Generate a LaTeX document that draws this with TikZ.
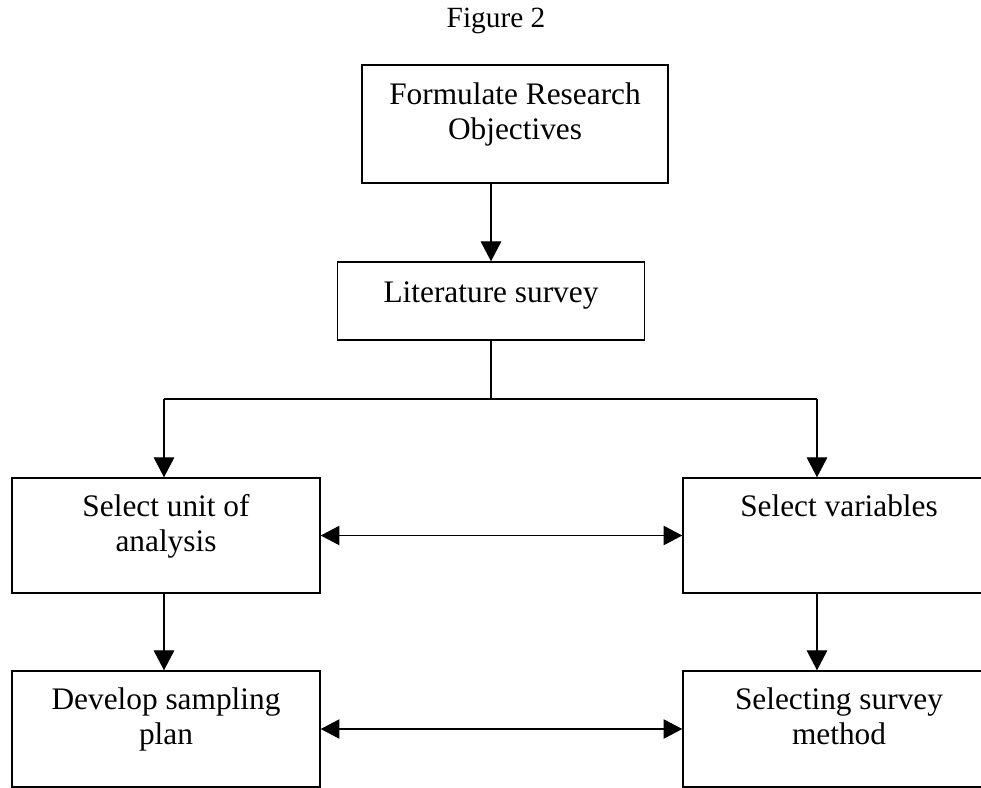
\documentclass[tikz,border=0pt]{standalone}
\usepackage{fontspec}
\setmainfont{Liberation Serif}
\usetikzlibrary{arrows.meta,calc}
\begin{document}
\begin{tikzpicture}[x=0.75pt,y=-0.75pt,
  box/.style={draw=black,line width=1.1pt,rectangle,inner sep=0pt},
  lbl/.style={anchor=north,align=center,inner sep=0pt,
    font=\fontsize{23.5pt}{26.5pt}\selectfont},
  arr/.style={line width=0.8pt,-{Triangle[length=15pt,width=15.5pt]}},
  darr/.style={line width=0.8pt,{Triangle[length=14pt,width=14.5pt]}-{Triangle[length=14pt,width=14.5pt]}},
  ln/.style={line width=0.8pt}]
\useasboundingbox (0,0) rectangle (981,788);
\node[anchor=base,inner sep=0pt,font=\fontsize{22pt}{25pt}\selectfont] (title) at (496,28) {Figure 2};
% boxes
\node[box,minimum width=229.5pt,minimum height=88.5pt] (b1) at (515,124) {};
\node[box,minimum width=230.25pt,minimum height=58.5pt] (b2) at (491,301) {};
\node[box,minimum width=231pt,minimum height=86.25pt] (b3) at (166,535.5) {};
\node[box,minimum width=234pt,minimum height=86.25pt] (b4) at (839,535.5) {};
\node[box,minimum width=231pt,minimum height=87pt] (b5) at (166,729) {};
\node[box,minimum width=234pt,minimum height=87pt] (b6) at (839,729) {};
% labels
\node[lbl] (t1) at ([yshift=-13.5pt]b1.north) {Formulate Research\\Objectives};
\node[lbl] (t2) at ([yshift=-15.5pt]b2.north) {Literature survey};
\node[lbl] (t3) at ([yshift=-12.75pt]b3.north) {Select unit of\\analysis};
\node[lbl] (t4) at ([yshift=-12.75pt]b4.north) {Select variables};
\node[lbl] (t5) at ([yshift=-13pt]b5.north) {Develop sampling\\plan};
\node[lbl] (t6) at ([yshift=-13pt]b6.north) {Selecting survey\\method};
% connectors
\coordinate (jL) at (164,399);
\coordinate (jR) at (817,399);
\coordinate (j) at (b2.south |- jL);
\draw[arr] (b2.north |- b1.south) -- (b2.north);
\draw[ln] (b2.south) -- (j);
\draw[ln] (jL) -- (jR);
\draw[arr] (jL) -- (jL |- b3.north);
\draw[arr] (jR) -- (jR |- b4.north);
\draw[arr] (jL |- b3.south) -- (jL |- b5.north);
\draw[arr] (jR |- b4.south) -- (jR |- b6.north);
\draw[darr] (b3.east) -- (b4.west);
\draw[darr] (b5.east) -- (b6.west);
\end{tikzpicture}
\end{document}
